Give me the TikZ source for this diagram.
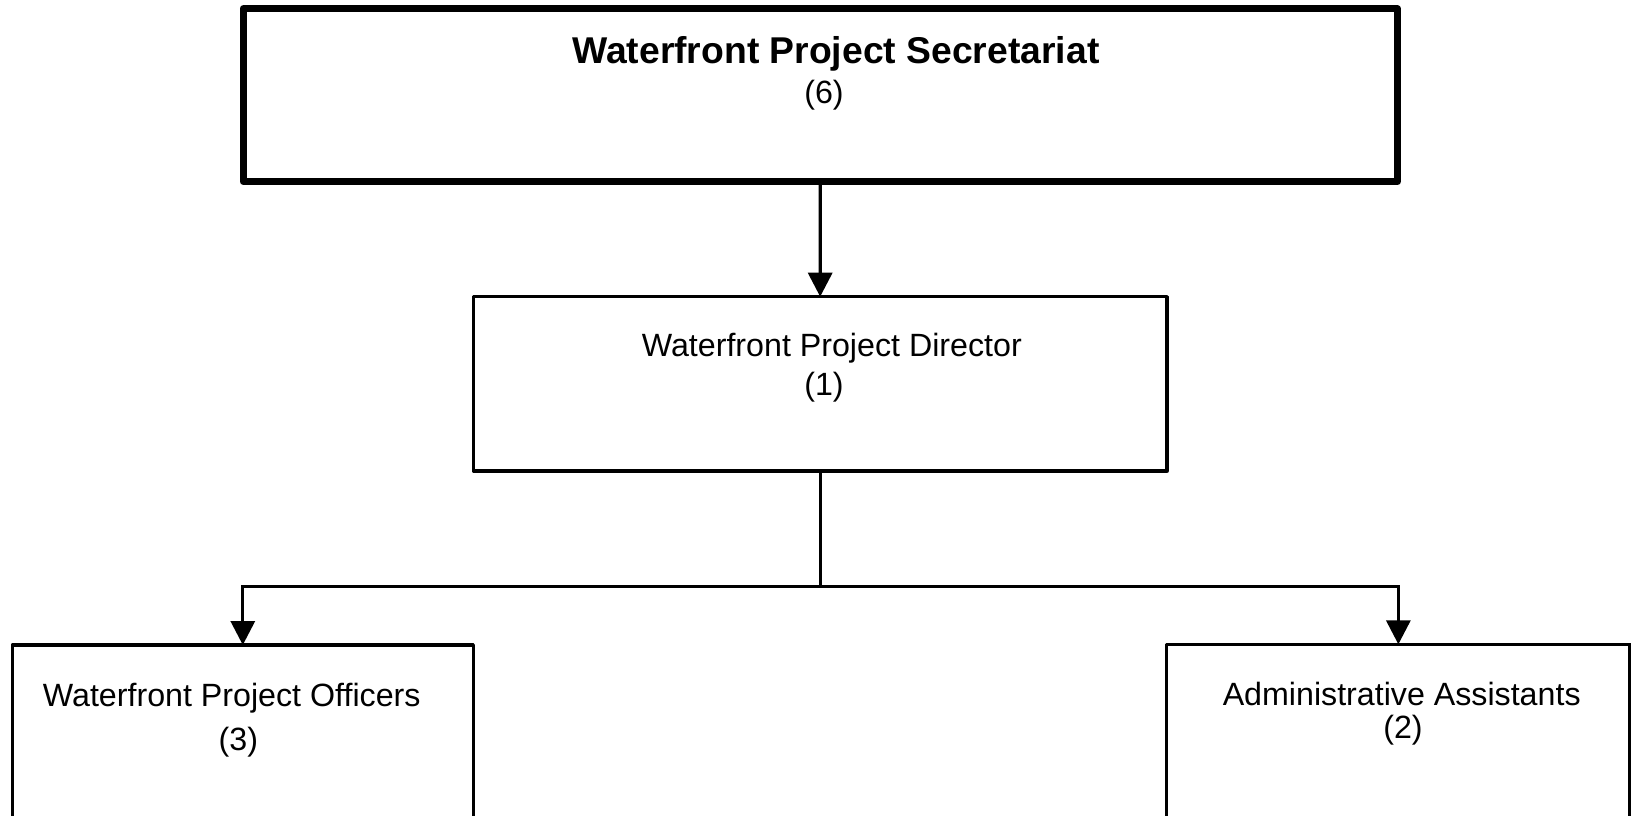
\documentclass[tikz,border=0pt]{standalone}
\usepackage{fontspec}
\setmainfont{Liberation Sans}
\usetikzlibrary{arrows.meta}
\begin{document}
\begin{tikzpicture}[x=1pt,y=-1pt,
  box/.style={draw=black,line width=3.3pt,rectangle,inner sep=0pt,outer sep=0pt,line join=round},
  bigbox/.style={box,line width=7pt},
  conn/.style={draw=black,line width=3.3pt},
  arr/.style={conn,-{Triangle[width=24pt,length=24pt]}},
  txt/.style={anchor=base,inner sep=0pt,outer sep=0pt,font=\fontsize{32.2}{38}\selectfont},
  ttl/.style={anchor=base,inner sep=0pt,outer sep=0pt,font=\fontsize{37.3}{44}\selectfont\bfseries}]
\useasboundingbox (0,0) rectangle (1631,815);
\clip (0,0) rectangle (1631,815);
\fill[white] (0,0) rectangle (1631,815);
% boxes
\node[bigbox,minimum width=1154.5pt,minimum height=172.8pt] (sec) at (820.25,95.1) {};
\node[box,minimum width=693.7pt,minimum height=174.3pt] (dir) at (820.15,383.85) {};
\node[box,minimum width=461pt,minimum height=185pt] (off) at (242.8,737.5) {};
\node[box,minimum width=463.3pt,minimum height=185.7pt] (adm) at (1398.35,737.15) {};
% texts
\node[ttl] (secT) at (835.9,63.3) {Waterfront Project Secretariat};
\node[txt] (secN) at (824,103.3) {(6)};
\node[txt] (dirT) at (831.8,356.7) {Waterfront Project Director};
\node[txt] (dirN) at (824,395) {(1)};
\node[txt] (offT) at (231.7,706) {Waterfront Project Officers};
\node[txt] (offN) at (238.3,750) {(3)};
\node[txt] (admT) at (1401.7,705) {Administrative Assistants};
\node[txt] (admN) at (1403,738.3) {(2)};
% connectors
\coordinate (j) at (820.15,586.7);
\draw[arr] (sec.south) -- (dir.north);
\draw[conn] (dir.south) -- (j);
\draw[arr] (j) -| (off.north);
\draw[arr] (j) -| (adm.north);
\end{tikzpicture}
\end{document}
